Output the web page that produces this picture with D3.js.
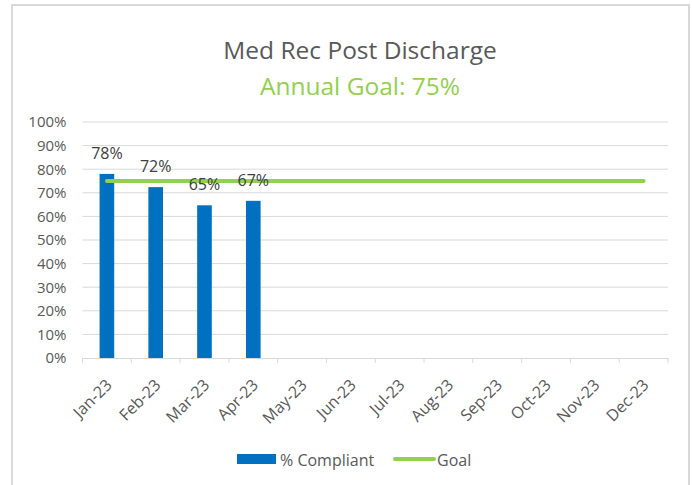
<!DOCTYPE html>
<html>
<head>
<meta charset="utf-8">
<script src="https://cdn.jsdelivr.net/npm/d3@7"></script>
<style>
  body { margin: 0; background: #fff; }
  text { font-family: "Open Sans", "Noto Sans", sans-serif; }
</style>
</head>
<body>
<svg id="chart" width="692" height="485"></svg>
<script>
  // chart data
  var months = ['Jan-23', 'Feb-23', 'Mar-23', 'Apr-23', 'May-23', 'Jun-23',
                'Jul-23', 'Aug-23', 'Sep-23', 'Oct-23', 'Nov-23', 'Dec-23'];
  var compliant = [0.78, 0.724, 0.647, 0.666];
  var goal = [0.75, 0.75, 0.75, 0.75, 0.75, 0.75, 0.75, 0.75, 0.75, 0.75, 0.75, 0.75];
  var yTicks = [0, 0.1, 0.2, 0.3, 0.4, 0.5, 0.6, 0.7, 0.8, 0.9, 1];

  var svg = d3.select('#chart');
  var margin = { top: 122, right: 24, bottom: 127, left: 82.5 };
  var width = 692 - margin.left - margin.right;
  var height = 485 - margin.top - margin.bottom;

  var blue = '#0070c0', green = '#92d050', grey = '#595959';

  // outer frame
  svg.append('rect')
    .attr('x', 12).attr('y', 5)
    .attr('width', 677).attr('height', 490)
    .attr('fill', '#fff')
    .attr('stroke', '#d9d9d9')
    .attr('stroke-width', 2);

  svg.append('text')
    .attr('x', 360).attr('y', 59)
    .attr('text-anchor', 'middle')
    .attr('font-size', 24.5)
    .attr('fill', grey)
    .text('Med Rec Post Discharge');

  svg.append('text')
    .attr('x', 360).attr('y', 95)
    .attr('text-anchor', 'middle')
    .attr('font-size', 24.5)
    .attr('fill', green)
    .text('Annual Goal: 75%');

  var g = svg.append('g')
    .attr('transform', 'translate(' + margin.left + ',' + margin.top + ')');

  var x = d3.scaleBand().domain(months).range([0, width]).paddingInner(0.7).paddingOuter(0.35);
  var xc = d3.scaleBand().domain(months).range([0, width]);
  var y = d3.scaleLinear().domain([0, 1]).range([height, 0]);

  // gridlines
  g.selectAll('line.grid')
    .data(yTicks.slice(1))
    .enter().append('line')
    .attr('class', 'grid')
    .attr('x1', 0).attr('x2', width)
    .attr('y1', function(d) { return y(d); })
    .attr('y2', function(d) { return y(d); })
    .attr('stroke', '#d9d9d9')
    .attr('stroke-width', 1);

  // y axis labels
  var yAxis = g.append('g')
    .call(d3.axisLeft(y).tickValues(yTicks).tickFormat(d3.format('.0%')).tickSize(0).tickPadding(16));
  yAxis.select('.domain').remove();
  yAxis.selectAll('text')
    .attr('font-size', 15)
    .attr('fill', grey)
    .style('font-family', '"Open Sans", sans-serif');

  // x axis
  var xAxis = g.append('g')
    .attr('transform', 'translate(0,' + height + ')')
    .call(d3.axisBottom(xc).tickSize(0));
  xAxis.select('.domain').attr('stroke', '#d9d9d9');
  xAxis.selectAll('.tick text')
    .attr('font-size', 16)
    .attr('fill', grey)
    .style('font-family', '"Open Sans", sans-serif')
    .attr('text-anchor', 'end')
    .attr('x', 0).attr('y', 0).attr('dy', 0)
    .attr('transform', 'translate(6,28) rotate(-45)');

  // category tick marks at band edges
  g.selectAll('line.tickmark')
    .data(months.concat(['end']))
    .enter().append('line')
    .attr('class', 'tickmark')
    .attr('x1', function(d, i) { return i * xc.step(); })
    .attr('x2', function(d, i) { return i * xc.step(); })
    .attr('y1', height).attr('y2', height + 5)
    .attr('stroke', '#d9d9d9');

  // bars
  g.selectAll('rect.bar')
    .data(compliant)
    .enter().append('rect')
    .attr('class', 'bar')
    .attr('x', function(d, i) { return x(months[i]); })
    .attr('y', function(d) { return y(d); })
    .attr('width', x.bandwidth())
    .attr('height', function(d) { return height - y(d); })
    .attr('fill', blue);

  // goal line
  var line = d3.line()
    .x(function(d, i) { return xc(months[i]) + xc.bandwidth() / 2; })
    .y(function(d) { return y(d); });
  g.append('path')
    .datum(goal)
    .attr('d', line)
    .attr('fill', 'none')
    .attr('stroke', green)
    .attr('stroke-width', 4)
    .attr('stroke-linecap', 'round');

  // data labels
  g.selectAll('text.label')
    .data(compliant)
    .enter().append('text')
    .attr('class', 'label')
    .attr('x', function(d, i) { return xc(months[i]) + xc.bandwidth() / 2; })
    .attr('y', function(d) { return y(d) - 15; })
    .attr('text-anchor', 'middle')
    .attr('font-size', 16)
    .attr('fill', '#404040')
    .text(d3.format('.0%'));

  // legend
  var legend = svg.append('g').attr('transform', 'translate(0,459)');
  legend.append('rect')
    .attr('x', 237).attr('y', -5)
    .attr('width', 39).attr('height', 10)
    .attr('fill', blue);
  legend.append('text')
    .attr('x', 280).attr('y', 6.5)
    .attr('font-size', 16)
    .attr('fill', grey)
    .text('% Compliant');
  legend.append('line')
    .attr('x1', 395).attr('x2', 434)
    .attr('y1', 0).attr('y2', 0)
    .attr('stroke', green)
    .attr('stroke-width', 4)
    .attr('stroke-linecap', 'round');
  legend.append('text')
    .attr('x', 437).attr('y', 6.5)
    .attr('font-size', 16)
    .attr('fill', grey)
    .text('Goal');
</script>
</body>
</html>
